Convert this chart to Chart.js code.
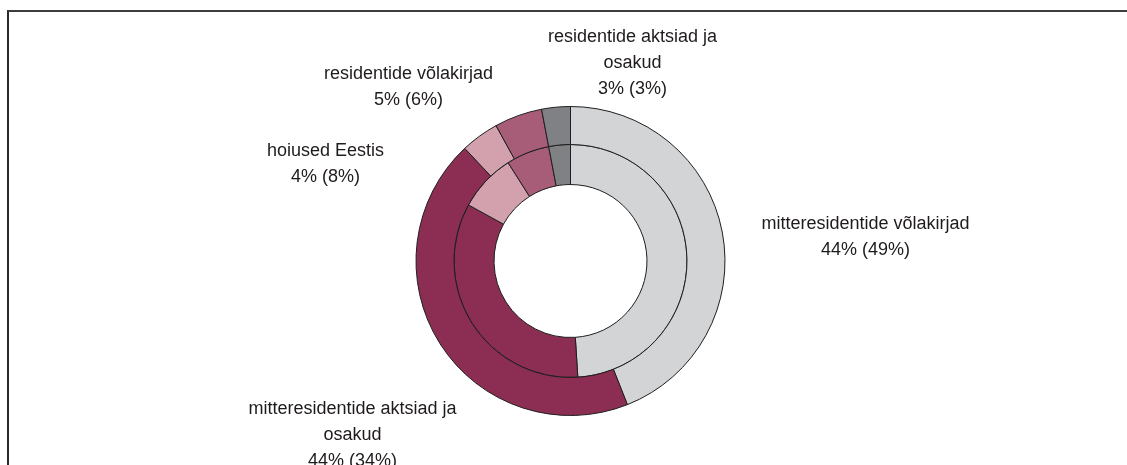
<!DOCTYPE html>
<html>
<head>
<meta charset="utf-8">
<script src="https://cdn.jsdelivr.net/npm/chart.js@4.4.0/dist/chart.umd.min.js"></script>
<style>
  html, body { margin: 0; padding: 0; background: #ffffff; overflow: hidden; }
  #frame { position: absolute; left: 7px; top: 10px; width: 1200px; height: 600px;
           border-top: 2px solid #3d3d3d; border-left: 2px solid #2a2a2a; }
  #wrap { position: absolute; left: 0; top: 0; width: 1127px; height: 520px; }
</style>
</head>
<body>
<div id="frame"></div>
<div id="wrap"><canvas id="c" width="1127" height="520"></canvas></div>
<script>
// Categories (label lines as displayed)
const categories = [
  ['mitteresidentide võlakirjad'],
  ['mitteresidentide aktsiad ja', 'osakud'],
  ['hoiused Eestis'],
  ['residentide võlakirjad'],
  ['residentide aktsiad ja', 'osakud']
];
// Outer ring (first value in label), inner ring (value in parentheses)
const outerValues = [44, 44, 4, 5, 3];
const innerValues = [49, 34, 8, 6, 3];

const colors = ['#d3d4d6', '#8c2e53', '#d3a1ae', '#a75c78', '#808184'];
// label centre offsets relative to the doughnut centre (pixels)
const labelOffsets = [[295, -24], [-218, 174], [-245, -97], [-162, -174], [62, -198]];

const labelPlugin = {
  id: 'ringLabels',
  afterDraw(chart) {
    const ctx = chart.ctx;
    const meta = chart.getDatasetMeta(0);
    const arc = meta.data[0];
    const cx = arc.x, cy = arc.y;
    ctx.save();
    ctx.font = '18px "Liberation Sans", Arial, sans-serif';
    ctx.fillStyle = '#1f1b1c';
    ctx.textAlign = 'center';
    ctx.textBaseline = 'middle';
    const lh = 26;
    categories.forEach((lines, i) => {
      const all = lines.concat([outerValues[i] + '% (' + innerValues[i] + '%)']);
      const x = cx + labelOffsets[i][0];
      const y0 = cy + labelOffsets[i][1] - (all.length - 1) * lh / 2;
      all.forEach((t, j) => ctx.fillText(t, x, y0 + j * lh));
    });
    ctx.restore();
  }
};

new Chart(document.getElementById('c'), {
  type: 'doughnut',
  data: {
    labels: categories.map(l => l.join(' ')),
    datasets: [
      { data: outerValues, backgroundColor: colors, borderColor: '#1e1e1e', borderWidth: 1, weight: 0.95 },
      { data: innerValues, backgroundColor: colors, borderColor: '#1e1e1e', borderWidth: 1, weight: 1 }
    ]
  },
  options: {
    responsive: false,
    animation: false,
    cutout: '49.5%',
    layout: { padding: { left: 415, right: 401, top: 106, bottom: 104 } },
    plugins: { legend: { display: false }, tooltip: { enabled: false } }
  },
  plugins: [labelPlugin]
});
</script>
</body>
</html>
